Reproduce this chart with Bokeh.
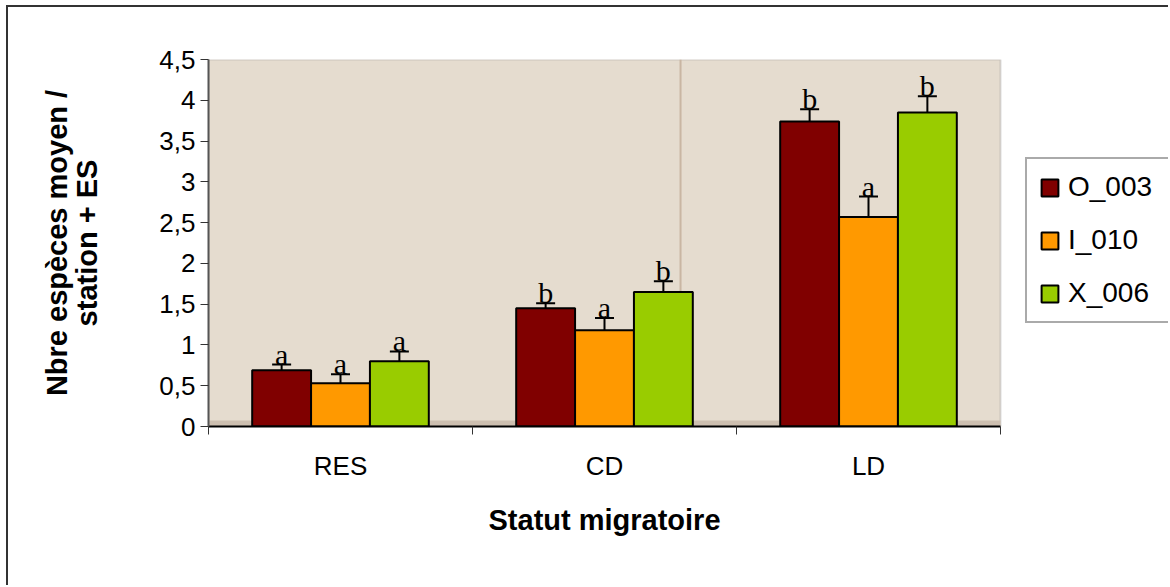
import numpy as np
from bokeh.plotting import figure
from bokeh.models import (ColumnDataSource, Range1d, FixedTicker, Legend, LegendItem,
                          Span, BoxAnnotation, Whisker, TeeHead, Title)
from bokeh.core.properties import value
from bokeh.embed import file_html
from bokeh.resources import INLINE

# ---- data ----
categories = ["RES", "CD", "LD"]
series_names = ["O_003", "I_010", "X_006"]
o_003 = [0.69, 1.45, 3.74]
o_003_es = [0.07, 0.06, 0.15]
i_010 = [0.53, 1.18, 2.57]
i_010_es = [0.11, 0.15, 0.25]
x_006 = [0.80, 1.65, 3.85]
x_006_es = [0.12, 0.13, 0.20]
o_003_sig = ["a", "b", "b"]
i_010_sig = ["a", "a", "a"]
x_006_sig = ["a", "b", "b"]
y_ticks = [0, 0.5, 1, 1.5, 2, 2.5, 3, 3.5, 4, 4.5]

colors = ["#800000", "#ff9900", "#99cc00"]
offsets = [-0.223, 0.0, 0.223]
bar_w = 0.223

n_cat = len(categories)
plot_px = 792      # width of the beige plotting area
frame_px = 960     # frame extended to the right to host the legend
x_end = n_cat * frame_px / plot_px

p = figure(frame_width=frame_px, frame_height=367, x_range=Range1d(0, x_end), y_range=Range1d(0, 4.5),
           output_backend="svg", toolbar_location=None,
           min_border_left=200, min_border_top=52, min_border_right=0, min_border_bottom=159,
           styles={"margin-left": "6px", "margin-top": "5px",
                   "border-left": "2px solid #333", "border-top": "2px solid #333"})

p.background_fill_color = "white"
p.border_fill_color = "white"
p.outline_line_color = None
p.xgrid.visible = False
p.ygrid.visible = False

# plotting area (beige) with grey border, limited to the categories
p.add_layout(BoxAnnotation(left=0, right=n_cat, fill_color="#e5dccf", fill_alpha=1.0,
                           line_color="#8a8a8a", line_width=2, level="underlay"))
p.add_layout(BoxAnnotation(left=0, right=n_cat, top=0.075, fill_color="#cdbfb0", fill_alpha=1.0,
                           line_alpha=0, level="underlay"))
p.add_layout(Span(location=1.788, dimension="height", line_color="#c9b6a3", line_width=2, level="underlay"))

centers = np.arange(n_cat) + 0.5
vals = [o_003, i_010, x_006]
errs = [o_003_es, i_010_es, x_006_es]
sigs = [o_003_sig, i_010_sig, x_006_sig]

items = []
for name, v, e, s, c, off in zip(series_names, vals, errs, sigs, colors, offsets):
    v = np.array(v)
    e = np.array(e)
    src = ColumnDataSource(dict(x=centers + off, top=v, upper=v + e, lower=v, sig=s))
    r = p.vbar(x="x", top="top", width=bar_w, source=src, fill_color=c,
               line_color="black", line_width=2)
    p.add_layout(Whisker(base="x", upper="upper", lower="lower", source=src,
                         line_color="black", line_width=2,
                         upper_head=TeeHead(size=19, line_color="black", line_width=2),
                         lower_head=None))
    p.text(x="x", y="upper", text="sig", source=src, text_font=value("Liberation Serif"),
           text_font_size="30px", text_align="center", text_baseline="bottom",
           text_color="black", y_offset=6)
    items.append(LegendItem(label=name, renderers=[r]))

# axes
xa = p.xaxis[0]
xa.bounds = (0, n_cat)
xa.ticker = FixedTicker(ticks=list(centers), minor_ticks=list(range(n_cat + 1)))
xa.major_label_overrides = {float(c): lab for c, lab in zip(centers, categories)}
xa.major_tick_out = 0
xa.major_tick_in = 0
xa.minor_tick_out = 8
xa.minor_tick_in = 0
xa.minor_tick_line_color = "#333"
xa.axis_line_color = "black"
xa.axis_line_width = 2
xa.major_label_standoff = 16
xa.major_label_text_font = "Liberation Sans"
xa.major_label_text_font_size = "26px"
xa.major_label_text_color = "black"

# x axis title, centred on the beige plotting area (not on the extended frame)
p.add_layout(Title(text="Statut migratoire", align="left", offset=280, standoff=36,
                   text_font="Liberation Sans", text_font_style="bold",
                   text_font_size="29px", text_color="black"), "below")

ya = p.yaxis[0]
ya.ticker = FixedTicker(ticks=y_ticks)
ya.major_label_overrides = {t: (str(t).replace(".", ",") if t % 1 else str(int(t))) for t in y_ticks}
ya.major_tick_out = 8
ya.major_tick_in = 0
ya.minor_tick_out = 0
ya.minor_tick_in = 0
ya.major_tick_line_color = "#333"
ya.axis_line_color = "#555"
ya.axis_line_width = 2
ya.major_label_standoff = 5
ya.major_label_text_font = "Liberation Sans"
ya.major_label_text_font_size = "26px"
ya.major_label_text_color = "black"
ya.axis_label = "Nbre espèces moyen /\nstation + ES"
ya.axis_label_text_font = "Liberation Sans"
ya.axis_label_text_font_style = "bold"
ya.axis_label_text_font_size = "29px"
ya.axis_label_text_line_height = 0.95
ya.axis_label_text_color = "black"
ya.axis_label_standoff = 53

legend = Legend(items=items, location=(817, 103), orientation="vertical",
                label_text_font="Liberation Sans", label_text_font_size="28px",
                label_text_color="black", glyph_width=21, glyph_height=21,
                label_height=30, label_width=89, spacing=21, padding=12, margin=0,
                label_standoff=8,
                border_line_color="#555", border_line_width=2,
                background_fill_color="white", background_fill_alpha=1.0)
p.add_layout(legend, "center")

open("out.html", "w").write(file_html(p, INLINE))
